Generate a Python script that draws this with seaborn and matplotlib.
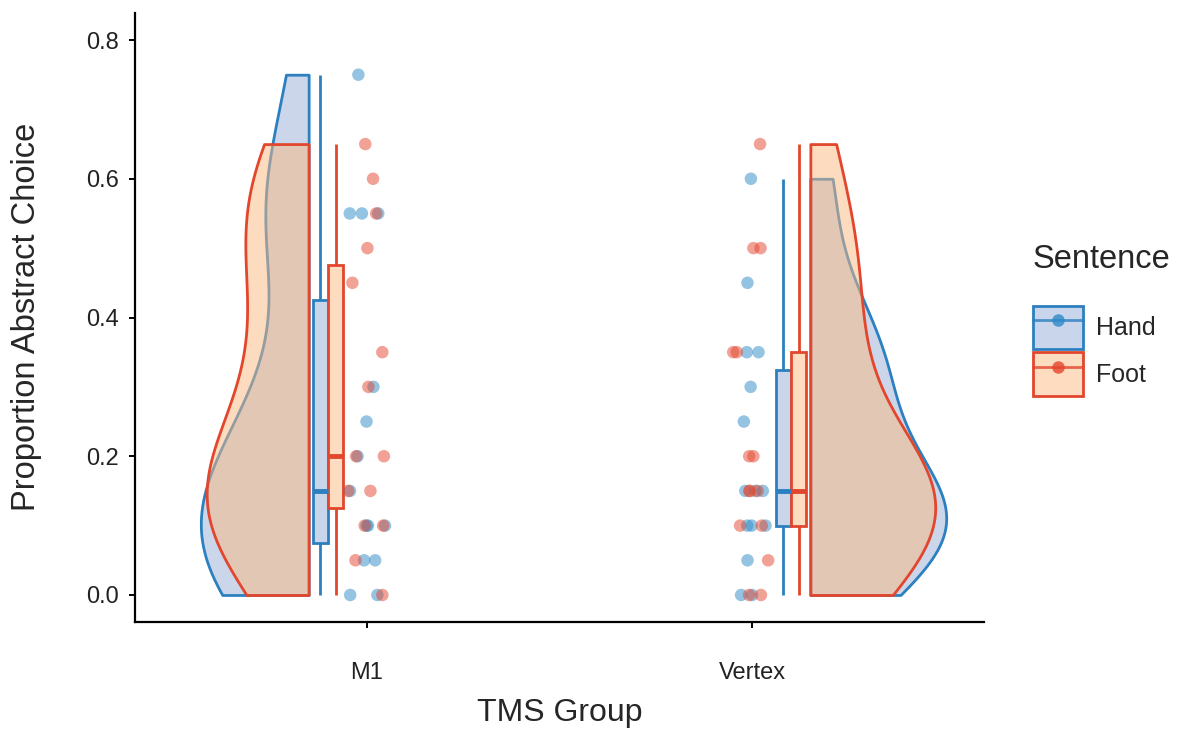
import numpy as np
import pandas as pd
import seaborn as sns
from matplotlib import pyplot as plt
from matplotlib.colors import to_rgba
from matplotlib.lines import Line2D
from matplotlib.patches import Patch

# === DATA ===

groups = ['M1', 'Vertex']
sentences = ['Hand', 'Foot']

m1_hand = [0, 0, 0.05, 0.05, 0.1, 0.1, 0.1, 0.15, 0.2, 0.25, 0.3, 0.55, 0.55, 0.55, 0.75]
m1_foot = [0, 0.05, 0.1, 0.1, 0.15, 0.15, 0.2, 0.2, 0.3, 0.35, 0.45, 0.5, 0.55, 0.6, 0.65]
vertex_hand = [0, 0, 0.05, 0.1, 0.1, 0.1, 0.15, 0.15, 0.15, 0.25, 0.3, 0.35, 0.35, 0.45, 0.6]
vertex_foot = [0, 0, 0.05, 0.1, 0.1, 0.15, 0.15, 0.15, 0.2, 0.2, 0.35, 0.35, 0.5, 0.5, 0.65]

y_ticks = [0.0, 0.2, 0.4, 0.6, 0.8]

edge = {'Hand': '#2c80c0', 'Foot': '#e2462d'}
fill = {'Hand': '#9aaed8', 'Foot': '#fbb981'}
box_fill = {'Hand': '#c9d5ea', 'Foot': '#fddcc0'}
dots = {'Hand': '#2c8ac8', 'Foot': '#e5452c'}


def build_frame():
    parts = {('M1', 'Hand'): m1_hand, ('M1', 'Foot'): m1_foot,
             ('Vertex', 'Hand'): vertex_hand, ('Vertex', 'Foot'): vertex_foot}
    rows = [(g, s, v) for (g, s), vals in parts.items() for v in vals]
    return pd.DataFrame(rows, columns=['group', 'sentence', 'prop'])


def side_of(x):
    # M1 clouds go left of the tick, Vertex clouds go right
    return -1 if np.mean(x) < 0.5 else 1


def nudge(artists, dx, shift):
    for art in artists:
        if isinstance(art, Line2D):
            x = np.asarray(art.get_xdata(), dtype=float)
            art.set_xdata(x + dx + shift * side_of(x))
        else:
            verts = art.get_path().vertices
            verts[:, 0] += dx + shift * side_of(verts[:, 0])


# === CODE ===

df = build_frame()

sns.set_theme(style='ticks')
plt.rcParams['font.family'] = ['Liberation Sans', 'DejaVu Sans']

fig = plt.figure(figsize=(11.85, 7.29), dpi=100)
ax = fig.add_axes([0.1139, 0.1472, 0.7165, 0.8354])

# half violins
n_coll = len(ax.collections)
sns.violinplot(data=df, x='group', y='prop', hue='sentence',
               order=groups, hue_order=sentences, palette=fill,
               saturation=1, dodge=False, inner=None, cut=0,
               density_norm='area', common_norm=True, bw_method=0.52,
               width=0.704, linewidth=2, legend=False, ax=ax)
for coll in ax.collections[n_coll:]:
    verts = coll.get_paths()[0].vertices.copy()
    center = np.round(verts[:, 0].mean())
    fc = coll.get_facecolor()[0]
    hue = min(sentences, key=lambda s: np.abs(np.array(to_rgba(fill[s])) - fc).sum())
    if side_of(verts[:, 0]) < 0:
        verts[:, 0] = np.minimum(verts[:, 0], center) - 0.15
    else:
        verts[:, 0] = np.maximum(verts[:, 0], center) + 0.15
    coll.set_verts([verts])
    coll.set_facecolor(to_rgba(fill[hue], 0.5))
    coll.set_edgecolor(edge[hue])
    coll.set_linewidth(2)

# narrow boxplots, dodged by sentence and nudged toward the clouds
for s, dx in zip(sentences, (-0.02, 0.02)):
    n_p, n_l = len(ax.patches), len(ax.lines)
    sns.boxplot(data=df[df.sentence == s], x='group', y='prop', order=groups,
                color=box_fill[s], linecolor=edge[s], saturation=1,
                width=0.038, linewidth=2, showcaps=False, showfliers=False,
                medianprops={'linewidth': 3.5}, ax=ax)
    nudge(ax.patches[n_p:] + ax.lines[n_l:], dx, 0.1)

# rain
np.random.seed(7)
sns.stripplot(data=df, x='group', y='prop', hue='sentence',
              order=groups, hue_order=sentences, palette=dots,
              dodge=False, jitter=0.05, size=9, alpha=0.5, linewidth=0,
              legend=False, ax=ax)

ax.set_xlim(-0.6, 1.6)
ax.set_ylim(-0.0385, 0.8394)
ax.set_yticks(y_ticks)
ax.set_yticklabels([f'{t:.1f}' for t in y_ticks])
sns.despine(ax=ax)
for side in ('left', 'bottom'):
    ax.spines[side].set_linewidth(1.6)
    ax.spines[side].set_color('black')
ax.tick_params(axis='both', length=4, width=1.4, color='black',
               labelsize=17, labelcolor='#222222')
ax.tick_params(axis='x', pad=25)
ax.tick_params(axis='y', pad=7.5)
ax.set_xlabel('TMS Group', fontsize=23, labelpad=10)
ax.set_ylabel('Proportion Abstract Choice', fontsize=23.5, labelpad=32)

handles = [(Patch(facecolor=box_fill[s], edgecolor=edge[s], linewidth=2),
            Line2D([], [], color=edge[s], linewidth=2, marker='o',
                   markersize=9, markerfacecolor=dots[s], markeredgewidth=0,
                   alpha=0.8))
           for s in sentences]
leg = fig.legend(handles, sentences, title='Sentence', loc='upper left',
                 bbox_to_anchor=(1023 / 1185, 1 - 234 / 729), frameon=False,
                 fontsize=18, title_fontsize=23.5, handlelength=2.0,
                 handleheight=2.32, labelspacing=0.1, handletextpad=0.5,
                 borderaxespad=0)
leg._legend_box.align = 'left'
leg._legend_box.sep = 22

fig.savefig('out.png', dpi=100)
